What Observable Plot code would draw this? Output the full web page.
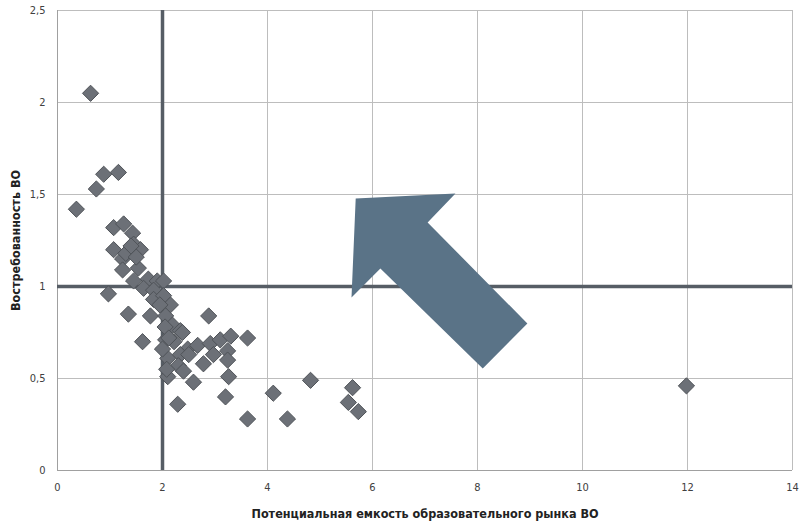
<!DOCTYPE html>
<html>
<head>
<meta charset="utf-8">
<script src="https://cdn.jsdelivr.net/npm/d3@7"></script>
<script src="https://cdn.jsdelivr.net/npm/@observablehq/plot@0.6"></script>
<style>
  html, body { margin: 0; padding: 0; background: #fff; }
  #chart svg { display: block; }
</style>
</head>
<body>
<div id="chart"></div>
<script>
// Potential capacity of the educational market (x) vs demand (y)
const capacity = [
  0.63, 0.36, 0.74, 0.88, 1.16, 1.07, 1.26, 1.43, 1.07, 1.24,
  1.45, 1.58, 1.24, 1.54, 1.45, 1.73, 1.90, 2.02, 1.64, 1.83,
  0.97, 1.83, 2.15, 1.35, 1.77, 2.06, 2.88, 2.19, 2.34, 1.62,
  2.06, 2.38, 2.48, 2.67, 2.91, 3.10, 3.30, 3.62, 2.10, 2.34,
  2.50, 2.78, 2.97, 3.24, 3.24, 2.30, 2.40, 2.10, 2.59, 3.26,
  2.29, 3.20, 3.62, 4.11, 4.82, 4.38, 5.62, 5.54, 5.73, 11.98,
  2.02, 2.05, 2.00, 2.08, 1.95, 1.30, 1.40, 1.50, 2.22, 2.12
];
const demand = [
  2.05, 1.42, 1.53, 1.61, 1.62, 1.32, 1.34, 1.29, 1.20, 1.15,
  1.23, 1.20, 1.09, 1.10, 1.03, 1.04, 1.03, 1.03, 0.99, 0.98,
  0.96, 0.93, 0.90, 0.85, 0.84, 0.84, 0.84, 0.79, 0.76, 0.70,
  0.71, 0.75, 0.66, 0.68, 0.69, 0.71, 0.73, 0.72, 0.61, 0.63,
  0.63, 0.58, 0.63, 0.65, 0.60, 0.57, 0.54, 0.51, 0.48, 0.51,
  0.36, 0.40, 0.28, 0.42, 0.49, 0.28, 0.45, 0.37, 0.32, 0.46,
  0.95, 0.78, 0.66, 0.55, 0.90, 1.18, 1.22, 1.16, 0.70, 0.72
];
const xTicks = [0, 2, 4, 6, 8, 10, 12, 14];
const yTicks = [0, 0.5, 1, 1.5, 2, 2.5];
const thresholdX = [2];
const thresholdY = [1];
// Block arrow outline (data units), pointing up-left
const arrowX = [5.68, 7.58, 7.05, 8.95, 8.10, 6.15, 5.60];
const arrowY = [1.478, 1.505, 1.348, 0.799, 0.554, 1.098, 0.940];

const points = capacity.map((x, i) => ({x, y: demand[i]}));
const arrow = arrowX.map((x, i) => ({x, y: arrowY[i]}));
const fmt = d => String(d).replace(".", ",");

const chart = Plot.plot({
  width: 806,
  height: 525,
  marginLeft: 57,
  marginRight: 14,
  marginTop: 10,
  marginBottom: 55,
  style: {fontFamily: "'DejaVu Sans Condensed', 'Liberation Sans Narrow', sans-serif", fontSize: "11px", color: "#404040", background: "#fff"},
  x: {domain: [0, 14], ticks: xTicks, tickFormat: fmt},
  y: {domain: [0, 2.5], ticks: yTicks, tickFormat: fmt},
  marks: [
    Plot.gridX(xTicks, {stroke: "#bdbdbd", strokeOpacity: 1}),
    Plot.gridY(yTicks, {stroke: "#bdbdbd", strokeOpacity: 1}),
    Plot.axisX({ticks: xTicks, tickFormat: fmt, tickSize: 0, tickPadding: 13, label: null}),
    Plot.axisY({ticks: yTicks, tickFormat: fmt, tickSize: 0, tickPadding: 12, label: null}),
    Plot.axisX({ticks: [], label: "Потенциальная емкость образовательного рынка ВО", labelArrow: "none", labelAnchor: "center", labelOffset: 47, fontSize: 12.5, fontWeight: "bold", fill: "#222"}),
    Plot.axisY({ticks: [], label: "Востребованность ВО", labelAnchor: "center", labelArrow: "none", labelOffset: 46, fontSize: 12.5, fontWeight: "bold", fill: "#222"}),
    Plot.ruleX([0], {stroke: "#a0a0a0"}),
    Plot.ruleY([0], {stroke: "#a0a0a0"}),
    Plot.ruleX(thresholdX, {stroke: "#565d65", strokeWidth: 3.5}),
    Plot.ruleY(thresholdY, {stroke: "#565d65", strokeWidth: 3.5}),
    Plot.dot(points, {x: "x", y: "y", symbol: "diamond2", r: 7.3, fill: "#6c7077", stroke: "#4f5358", strokeWidth: 1}),
    Plot.line(arrow, {x: "x", y: "y", curve: "linear-closed", fill: "#5a7387", stroke: "none"})
  ]
});
document.getElementById("chart").appendChild(chart);
</script>
</body>
</html>
